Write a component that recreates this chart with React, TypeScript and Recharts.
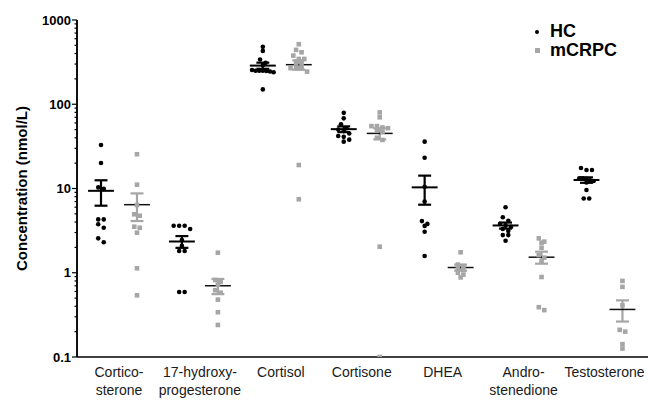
import { ScatterChart, Scatter, XAxis, YAxis, ReferenceLine, Legend } from 'recharts';

const categories = [
  'Cortico-\nsterone',
  '17-hydroxy-\nprogesterone',
  'Cortisol',
  'Cortisone',
  'DHEA',
  'Andro-\nstenedione',
  'Testosterone',
];

// one list per category, values in nmol/L
const hcValues = [
  [32.9, 20.1, 10.3, 9.9, 4.3, 4.3, 3.76, 3.42, 2.56, 2.3],
  [3.62, 3.62, 3.62, 3.3, 2.44, 2.09, 1.81, 1.81, 0.59, 0.59],
  [480, 430, 340, 310, 290, 255, 250, 250, 248, 245, 250, 240, 150],
  [79, 68, 58, 52, 50, 48, 45, 42, 41, 38, 36],
  [36, 23.2, 10.5, 7.0, 4.1, 3.8, 3.6, 3.07, 1.58],
  [5.98, 4.55, 4.15, 3.8, 3.65, 3.5, 3.3, 3.13, 2.8, 2.8, 2.4],
  [17.5, 16.6, 16.6, 13.2, 13.2, 13.0, 12.5, 12.3, 11.8, 9.6, 7.6, 7.6],
];

const mcrpcValues = [
  [25.5, 11.1, 6.37, 4.94, 4.75, 3.52, 3.42, 2.99, 1.13, 0.54],
  [1.73, 0.82, 0.78, 0.72, 0.62, 0.58, 0.48, 0.34, 0.24],
  [516, 442, 414, 378, 345, 345, 307, 307, 268, 268, 268, 244, 19, 7.45],
  [80, 70, 55, 53, 52, 55, 49, 47, 40, 37.7, 2.04, 0.1],
  [1.75, 1.25, 1.2, 1.12, 1.08, 1.0, 0.95, 0.88],
  [2.56, 2.34, 2.27, 1.98, 1.62, 1.51, 1.38, 0.89, 0.39, 0.36],
  [0.8, 0.68, 0.41, 0.21, 0.2, 0.142, 0.126],
];

const majorTicks = [0.1, 1, 10, 100, 1000];

const HC_COLOR = '#000000';
const MCRPC_COLOR = '#a6a6a6';
const GROUP_OFFSET = 0.2224;
const X_DOMAIN = [-0.519, 6.538];

// rough px per unit, only used to spread dots that sit on top of each other
const PX_PER_X = 80.9;
const PX_PER_DECADE = 84.2;

const minorTicks: number[] = [];
for (let e = -1; e <= 2; e++) {
  for (let k = 1; k <= 9; k++) minorTicks.push(Number((k * Math.pow(10, e)).toPrecision(2)));
}
minorTicks.push(1000);

function swarm(values: number[], center: number) {
  const sorted = [...values].sort((a, b) => b - a);
  const rows: number[][] = [];
  sorted.forEach(v => {
    const last = rows[rows.length - 1];
    if (last && (Math.log10(last[0]) - Math.log10(v)) * PX_PER_DECADE < 4) last.push(v);
    else rows.push([v]);
  });
  return rows.flatMap(row => {
    const step = row.length > 4 ? 3.6 : 5.5;
    return row.map((v, k) => ({ x: center + ((k - (row.length - 1) / 2) * step) / PX_PER_X, y: v }));
  });
}

function stats(values: number[]) {
  const n = values.length;
  const mean = values.reduce((s, v) => s + v, 0) / n;
  const sd = Math.sqrt(values.reduce((s, v) => s + (v - mean) ** 2, 0) / (n - 1));
  const sem = sd / Math.sqrt(n);
  return { mean, lo: mean - sem, hi: mean + sem };
}

const hcPoints = hcValues.flatMap((vals, i) => swarm(vals, i - GROUP_OFFSET));
const mcrpcPoints = mcrpcValues.flatMap((vals, i) => swarm(vals, i + GROUP_OFFSET));

const columnTicks = categories.flatMap((_, i) => [i - GROUP_OFFSET, i + GROUP_OFFSET]);
const categoryTicks = categories.map((_, i) => i);
const categoryAnchors = categoryTicks.map(i => ({ x: i, y: 1 }));

const summaries = [
  ...hcValues.map((vals, i) => ({ key: `hc${i}`, x: i - GROUP_OFFSET, ...stats(vals), sem: HC_COLOR, meanColor: HC_COLOR, meanW: 2 })),
  ...mcrpcValues.map((vals, i) => ({ key: `mc${i}`, x: i + GROUP_OFFSET, ...stats(vals), sem: MCRPC_COLOR, meanColor: '#111111', meanW: 1.5 })),
];

const YTick = (props: any) => {
  const { x, y, payload } = props;
  if (!majorTicks.includes(payload.value)) return <g />;
  return (
    <text x={x - 6} y={y} dy={4.5} textAnchor="end" fontWeight="bold" fontSize={13} fill="#000">
      {payload.value}
    </text>
  );
};

const CategoryTick = (props: any) => {
  const { x, y, payload } = props;
  const lines = categories[payload.value].split('\n');
  return (
    <text x={x} y={y} textAnchor="middle" fontSize={14} fill="#1a1a1a">
      {lines.map((l, k) => (
        <tspan key={k} x={x} dy={k === 0 ? 14 : 18}>
          {l}
        </tspan>
      ))}
    </text>
  );
};

const LegendBox = () => (
  <div style={{ fontFamily: 'Arial, "Liberation Sans", sans-serif', fontWeight: 'bold', fontSize: 18, lineHeight: '19px' }}>
    <div style={{ display: 'flex', alignItems: 'center' }}>
      <span style={{ width: 4, height: 4, borderRadius: 2, background: HC_COLOR, marginRight: 11, marginLeft: 5 }} />
      <span>HC</span>
    </div>
    <div style={{ display: 'flex', alignItems: 'center' }}>
      <span style={{ width: 5, height: 5, background: MCRPC_COLOR, marginRight: 10, marginLeft: 5 }} />
      <span>mCRPC</span>
    </div>
  </div>
);

const YTitle = (p: any) => {
  const vb = p.viewBox;
  const cx = vb.x + 21;
  const cy = vb.y + vb.height / 2;
  return (
    <text
      x={cx}
      y={cy}
      transform={`rotate(-90 ${cx} ${cy})`}
      textAnchor="middle"
      dominantBaseline="central"
      fontWeight="bold"
      fontSize={15}
      fill="#000"
    >
      Concentration (nmol/L)
    </text>
  );
};

export default function App() {
  return (
    <div style={{ position: 'absolute', left: 0, top: 0, fontFamily: 'Arial, "Liberation Sans", sans-serif' }}>
      <ScatterChart width={648} height={400} margin={{ top: 20, right: 0, bottom: 0, left: 0 }}>
        <XAxis
          xAxisId="b"
          dataKey="x"
          type="number"
          domain={X_DOMAIN}
          ticks={categoryTicks}
          allowDataOverflow
          height={37}
          axisLine={false}
          tickLine={false}
          tickSize={0}
          tickMargin={0}
          tick={<CategoryTick />}
        />
        <XAxis
          xAxisId="a"
          dataKey="x"
          type="number"
          domain={X_DOMAIN}
          ticks={columnTicks}
          allowDataOverflow
          height={6}
          tickSize={5}
          tick={false}
          tickLine={{ stroke: '#000', strokeWidth: 1.2 }}
          axisLine={{ stroke: '#000', strokeWidth: 1.5 }}
        />
        <YAxis
          dataKey="y"
          type="number"
          scale="log"
          domain={[0.1, 1000]}
          allowDataOverflow
          ticks={minorTicks}
          interval={0}
          width={77}
          stroke="#000"
          tickSize={0}
          tickMargin={0}
          tickLine={false}
          tick={<YTick />}
          axisLine={{ stroke: '#000', strokeWidth: 1.5 }}
          label={{ content: YTitle }}
        />
        <Legend
          layout="horizontal"
          verticalAlign="middle"
          align="center"
          content={<LegendBox />}
          wrapperStyle={{ position: 'absolute', top: 22, left: 530, width: 120 }}
        />
        <ReferenceLine xAxisId="a" x={X_DOMAIN[0]} stroke="#000" strokeWidth={1.5} />
        {minorTicks.map(t => {
          const len = majorTicks.includes(t) ? 5 : 2.5;
          return (
            <ReferenceLine
              key={`yt${t}`}
              xAxisId="a"
              ifOverflow="visible"
              segment={[{ x: X_DOMAIN[0] - len / PX_PER_X, y: t }, { x: X_DOMAIN[0], y: t }]}
              stroke="#000"
              strokeWidth={1.2}
            />
          );
        })}
        <Scatter
          xAxisId="b"
          data={categoryAnchors}
          isAnimationActive={false}
          legendType="none"
          shape={() => <g />}
        />
        <Scatter
          name="HC"
          xAxisId="a"
          data={hcPoints}
          isAnimationActive={false}
          shape={(p: any) => <circle cx={p.cx} cy={p.cy} r={2.3} fill={HC_COLOR} />}
        />
        <Scatter
          name="mCRPC"
          xAxisId="a"
          data={mcrpcPoints}
          isAnimationActive={false}
          shape={(p: any) => <rect x={p.cx - 2.3} y={p.cy - 2.3} width={4.6} height={4.6} fill={MCRPC_COLOR} />}
        />
        {summaries.flatMap(s => [
          <ReferenceLine
            key={`${s.key}v`}
            xAxisId="a"
            segment={[{ x: s.x, y: s.lo }, { x: s.x, y: s.hi }]}
            stroke={s.sem}
            strokeWidth={2.2}
          />,
          <ReferenceLine
            key={`${s.key}t`}
            xAxisId="a"
            segment={[{ x: s.x - 0.08, y: s.hi }, { x: s.x + 0.08, y: s.hi }]}
            stroke={s.sem}
            strokeWidth={2.2}
          />,
          <ReferenceLine
            key={`${s.key}b`}
            xAxisId="a"
            segment={[{ x: s.x - 0.08, y: s.lo }, { x: s.x + 0.08, y: s.lo }]}
            stroke={s.sem}
            strokeWidth={2.2}
          />,
          <ReferenceLine
            key={`${s.key}m`}
            xAxisId="a"
            segment={[{ x: s.x - 0.16, y: s.mean }, { x: s.x + 0.16, y: s.mean }]}
            stroke={s.meanColor}
            strokeWidth={s.meanW}
          />,
        ])}
      </ScatterChart>
    </div>
  );
}
